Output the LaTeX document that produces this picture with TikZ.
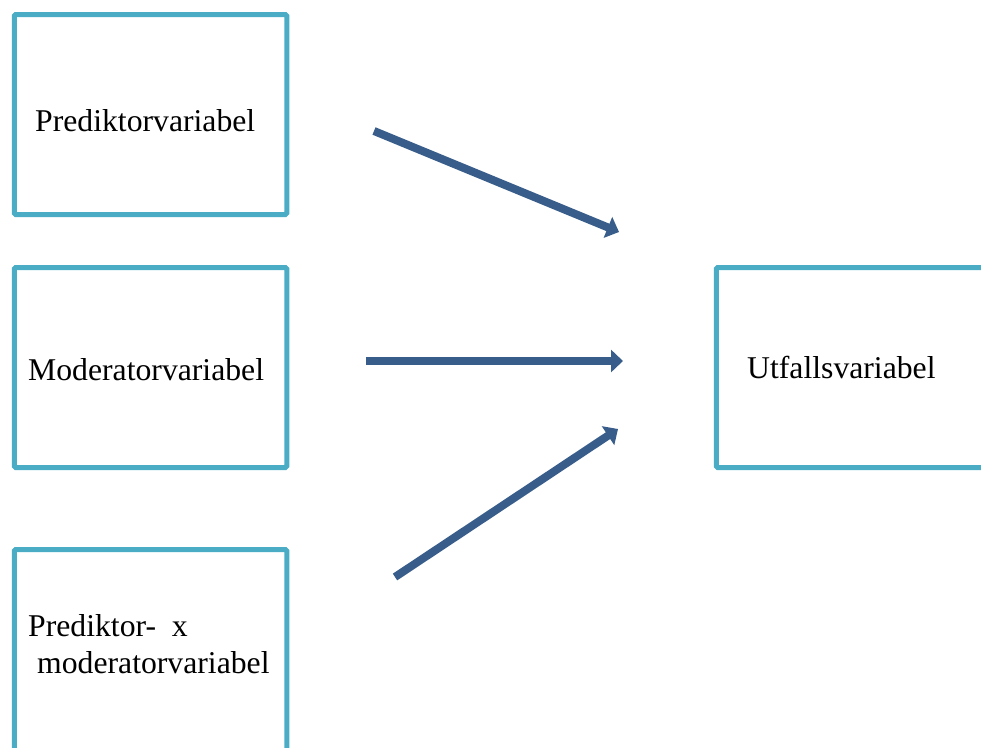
\documentclass[tikz,border=0pt]{standalone}
\usepackage{fontspec}
\setmainfont{Liberation Serif}
\usetikzlibrary{arrows.meta}
\definecolor{boxblue}{RGB}{75,172,198}
\definecolor{arrowblue}{RGB}{56,93,138}

\begin{document}
\begin{tikzpicture}[x=1pt,y=-1pt,
        varbox/.style={draw=boxblue,line width=5pt,rounded corners=1.5pt,minimum width=272.5pt,minimum height=200pt,inner sep=0pt},
        vartext/.style={anchor=base west,inner sep=0pt,font=\fontsize{31.7}{37}\selectfont,align=left},
        pil/.style={draw=arrowblue,line width=8pt,-{Triangle[length=12pt,width=22pt]}}]
        \useasboundingbox (0,0) rectangle (981,747);
        \clip (0,0) rectangle (981,747);

        % rutor
        \node[varbox] (prediktor) at (150.5,114.5) {};
        \node[varbox] (moderator) at (150.5,367.5) {};
        \node[varbox,minimum height=230pt] (produkt) at (150.5,664.5) {};
        \node[varbox] (utfall) at (852.5,367.5) {};

        % texter
        \node[vartext] (t-prediktor) at (35,131) {Prediktorvariabel};
        \node[vartext] (t-moderator) at (28,380) {Moderatorvariabel};
        \node[vartext] (t-produkt) at (28,673) {Prediktor-\hspace{0.5em}x\\\hspace*{9pt}moderatorvariabel};
        \node[vartext] (t-utfall) at (747,378) {Utfallsvariabel};

        % pilar
        \coordinate (p1) at (374,131);
        \coordinate (q1) at (619,232);
        \coordinate (p2) at (366,361);
        \coordinate (q2) at (623,361);
        \coordinate (p3) at (395,577);
        \coordinate (q3) at (618,429);
        \draw[pil] (p1) -- (q1);
        \draw[pil] (p2) -- (q2);
        \draw[pil] (p3) -- (q3);
    \end{tikzpicture}
\end{document}
